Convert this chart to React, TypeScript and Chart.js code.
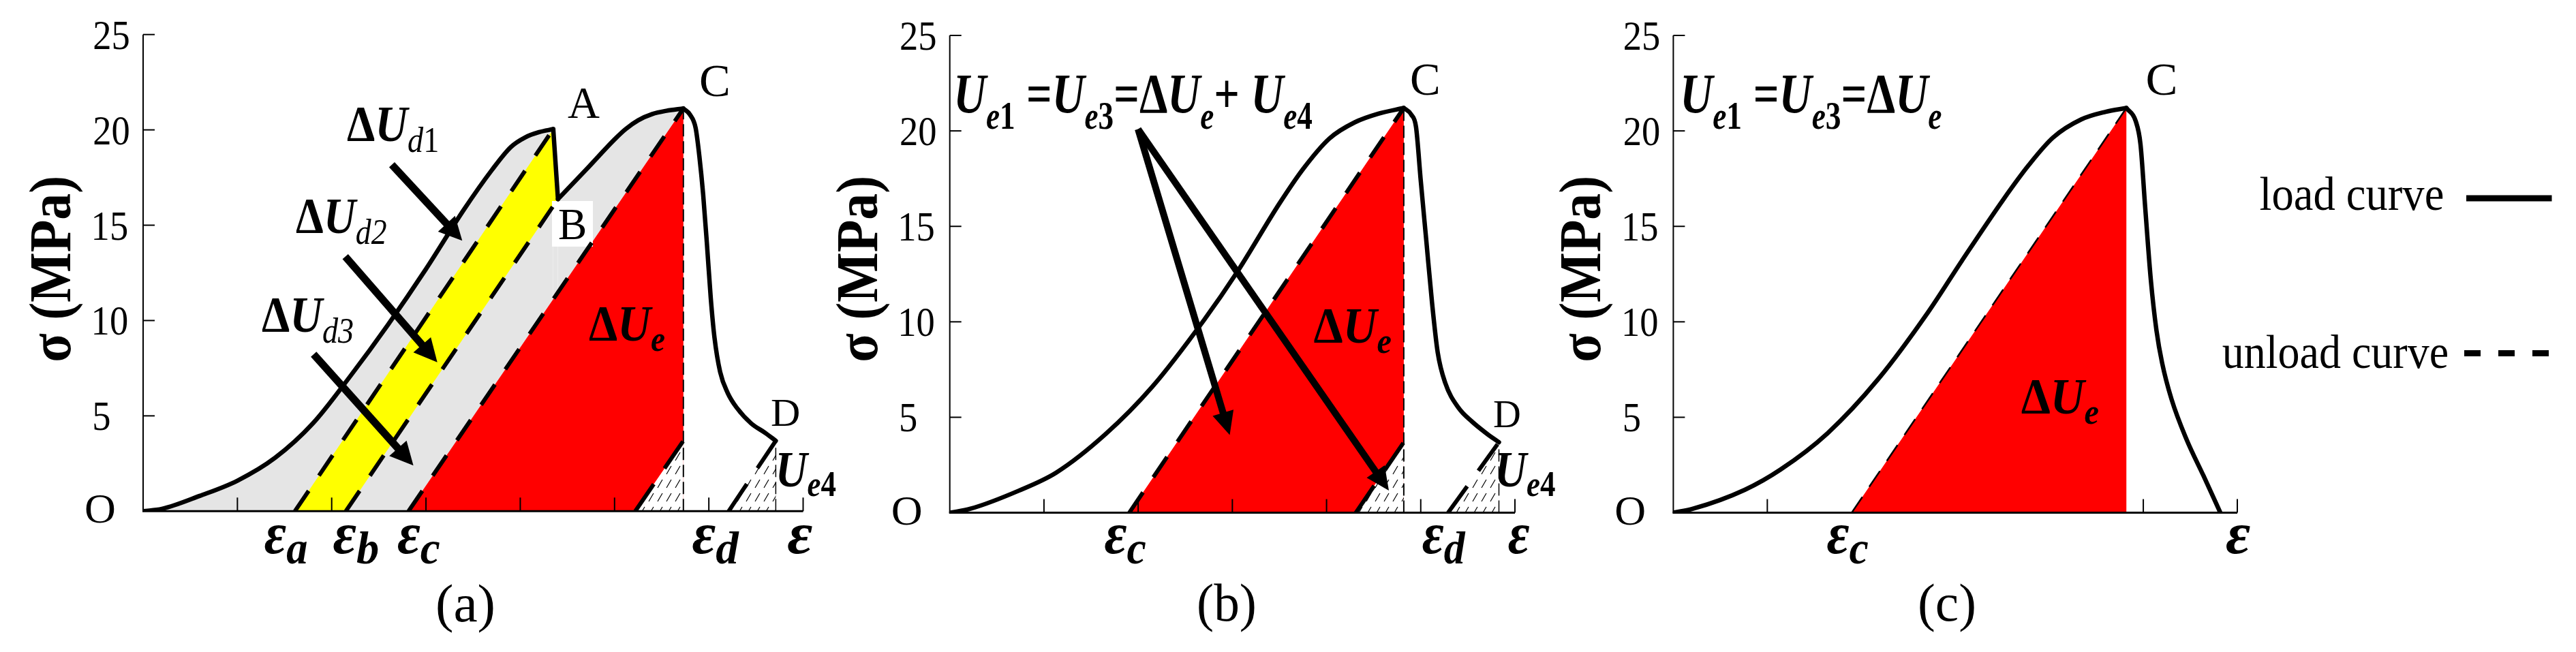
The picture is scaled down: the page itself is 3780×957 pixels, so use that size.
import React, { useEffect, useRef } from "react";
import { Chart, registerables } from "chart.js";

Chart.register(...registerables);

const W = 3780;
const H = 957;
const SERIF = "'Liberation Serif', 'Times New Roman', Times, 'DejaVu Serif', serif";

// ---------- axes: ticks and labels ----------
const yTickValues = [5, 10, 15, 20, 25];
const yTickLabels = ["5", "10", "15", "20", "25"];
const originLabel = "O";
const yAxisTitle = "σ (MPa)";
const aXTickValues = [1, 2, 3, 4, 5, 6, 7];
const bXTickValues = [1, 2, 3, 4, 5, 6];
const cXTickValues = [1, 2, 3, 4, 5, 6];
const panelNames = ["(a)", "(b)", "(c)"];
const legendLabels = ["load curve", "unload curve"];
const aStrainSubs = ["a", "b", "c", "d", ""];
const bStrainSubs = ["c", "d", ""];
const cStrainSubs = ["c", ""];

// ---------- panel (a) ----------
const aLoad1X = [0, 0.2, 0.6, 1.0, 1.4, 1.8, 2.2, 2.6, 3.0, 3.4, 3.7, 3.9, 4.05, 4.2, 4.35];
const aLoad1Y = [0, 0.12, 0.8, 1.6, 2.8, 4.6, 7.1, 9.8, 12.7, 15.8, 17.9, 19.1, 19.6, 19.88, 20.04];
const aDropX = [4.35, 4.4];
const aDropY = [20.04, 16.37];
const aLoad2X = [4.4, 4.7, 5.0, 5.12, 5.25, 5.4, 5.55, 5.73];
const aLoad2Y = [16.37, 17.92, 19.5, 20.05, 20.5, 20.83, 21.0, 21.12];
const aSoftX = [5.73, 5.8, 5.86, 5.9, 5.94, 5.98, 6.02, 6.06, 6.12, 6.2, 6.3, 6.45, 6.6, 6.71];
const aSoftY = [21.12, 20.8, 20.1, 18.6, 16.6, 14.0, 11.2, 9.1, 7.3, 6.2, 5.4, 4.6, 4.1, 3.69];
const aUnloadAX = [1.61, 4.35];
const aUnloadAY = [0, 20.04];
const aUnloadBX = [2.15, 4.4];
const aUnloadBY = [0, 16.37];
const aUnloadCX = [2.815, 5.73];
const aUnloadCY = [0, 21.12];
const aUnloadE4aX = [5.22, 5.73];
const aUnloadE4aY = [0, 3.69];
const aUnloadDX = [6.21, 6.71];
const aUnloadDY = [0, 3.69];
const aYellowX = [1.61, 4.35, 4.4, 2.15];
const aYellowY = [0, 20.04, 16.37, 0];
const aRedX = [2.815, 5.73, 5.73];
const aRedY = [0, 21.12, 0];
const aHatch1X = [5.22, 5.73, 5.73];
const aHatch1Y = [0, 3.69, 0];
const aHatch2X = [6.21, 6.71, 6.71];
const aHatch2Y = [0, 3.69, 0];
const aVertCX = [5.73, 5.73];
const aVertCY = [0, 21.12];
const aVertDX = [6.71, 6.71];
const aVertDY = [0, 3.69];

// ---------- panel (b) ----------
const bLoadX = [0, 0.22, 0.73, 1.13, 1.65, 2.15, 2.7, 3.05, 3.5, 3.75, 4.03, 4.3, 4.55, 4.82];
const bLoadY = [0, 0.21, 1.15, 2.1, 4.1, 6.6, 10.1, 12.6, 16.2, 18.0, 19.6, 20.45, 20.9, 21.2];
const bSoftX = [4.82, 4.9, 4.95, 5.0, 5.06, 5.12, 5.18, 5.26, 5.4, 5.55, 5.7, 5.83];
const bSoftY = [21.2, 20.85, 20.2, 17.4, 14.2, 11.0, 8.4, 6.8, 5.5, 4.75, 4.15, 3.69];
const bUnloadCX = [1.905, 4.82];
const bUnloadCY = [0, 21.2];
const bUnloadE4aX = [4.31, 4.82];
const bUnloadE4aY = [0, 3.69];
const bUnloadDX = [5.29, 5.83];
const bUnloadDY = [0, 3.69];
const bRedX = [1.905, 4.82, 4.82];
const bRedY = [0, 21.2, 0];
const bHatch1X = [4.31, 4.82, 4.82];
const bHatch1Y = [0, 3.69, 0];
const bHatch2X = [5.29, 5.83, 5.83];
const bHatch2Y = [0, 3.69, 0];
const bVertCX = [4.82, 4.82];
const bVertCY = [0, 21.2];
const bVertDX = [5.83, 5.83];
const bVertDY = [0, 3.69];

// ---------- panel (c) ----------
const cLoadX = [0, 0.21, 0.76, 1.14, 1.64, 2.18, 2.71, 3.07, 3.51, 3.78, 4.04, 4.34, 4.6, 4.82];
const cLoadY = [0, 0.21, 1.2, 2.26, 4.16, 7.0, 10.5, 13.2, 16.4, 18.2, 19.65, 20.6, 21.0, 21.2];
const cSoftX = [4.82, 4.92, 4.97, 5.02, 5.08, 5.14, 5.2, 5.3, 5.46, 5.64, 5.82];
const cSoftY = [21.2, 20.5, 19.3, 16.0, 12.2, 9.55, 7.85, 5.95, 3.84, 1.94, 0];
const cUnloadCX = [1.897, 4.82];
const cUnloadCY = [0, 21.2];
const cRedX = [1.897, 4.82, 4.82];
const cRedY = [0, 21.2, 0];

// ---------- helpers ----------
const F = {
  r: (s: number) => `${s}px ${SERIF}`,
  b: (s: number) => `bold ${s}px ${SERIF}`,
  i: (s: number) => `italic ${s}px ${SERIF}`,
  bi: (s: number) => `italic bold ${s}px ${SERIF}`,
};

type Seg = { t: string; f: string; dy?: number };

// Draws a run of text segments; the ink box (not the advance box) is fitted
// to a target width (w) or scaled by sx, and placed with its ink-left at x.
function rich(
  ctx: CanvasRenderingContext2D,
  segs: Seg[],
  x: number,
  y: number,
  o: { w?: number; sx?: number; align?: "left" | "center" } = {}
) {
  const adv: number[] = [];
  let total = 0;
  let inkL = 0;
  let lastR = 0;
  segs.forEach((s, i) => {
    ctx.font = s.f;
    const m = ctx.measureText(s.t);
    if (i === 0) inkL = -(m.actualBoundingBoxLeft || 0);
    if (i === segs.length - 1) lastR = total + (m.actualBoundingBoxRight || m.width);
    adv.push(m.width);
    total += m.width;
  });
  const inkW = Math.max(1, lastR - inkL);
  const sc = o.w ? o.w / inkW : o.sx ?? 0.88;
  const x0 = o.align === "center" ? x - (inkL + inkW / 2) * sc : x - inkL * sc;
  ctx.save();
  ctx.translate(x0, y);
  ctx.scale(sc, 1);
  ctx.textAlign = "left";
  ctx.textBaseline = "alphabetic";
  ctx.fillStyle = "#000";
  let cx = 0;
  segs.forEach((s, i) => {
    ctx.font = s.f;
    ctx.fillText(s.t, cx, s.dy ?? 0);
    cx += adv[i];
  });
  ctx.restore();
}

function arrow(
  ctx: CanvasRenderingContext2D,
  x1: number, y1: number, x2: number, y2: number,
  lw: number, hl: number, hw: number
) {
  const dx = x2 - x1, dy = y2 - y1;
  const L = Math.hypot(dx, dy);
  const ux = dx / L, uy = dy / L;
  const bx = x2 - ux * hl, by = y2 - uy * hl;
  ctx.save();
  ctx.strokeStyle = "#000";
  ctx.fillStyle = "#000";
  ctx.lineWidth = lw;
  ctx.lineCap = "butt";
  ctx.beginPath();
  ctx.moveTo(x1, y1);
  ctx.lineTo(bx + ux * 4, by + uy * 4);
  ctx.stroke();
  ctx.beginPath();
  ctx.moveTo(x2, y2);
  ctx.lineTo(bx - uy * hw, by + ux * hw);
  ctx.lineTo(bx + uy * hw, by - ux * hw);
  ctx.closePath();
  ctx.fill();
  ctx.restore();
}

const pts = (xs: number[], ys: number[]) => xs.map((x, i) => ({ x, y: ys[i] }));

const LOAD_W = 6.5;
const DASH_W = 6;

const curve = (xs: number[], ys: number[], order = 1) => ({
  data: pts(xs, ys),
  borderColor: "#000",
  borderWidth: LOAD_W,
  borderCapStyle: "round",
  borderJoinStyle: "round",
  cubicInterpolationMode: "monotone",
  fill: false,
  pointRadius: 0,
  order,
});
const straight = (xs: number[], ys: number[], order = 1) => ({
  data: pts(xs, ys),
  borderColor: "#000",
  borderWidth: LOAD_W,
  borderCapStyle: "round",
  fill: false,
  pointRadius: 0,
  tension: 0,
  order,
});
const dashed = (xs: number[], ys: number[], dash: number[], width: number, order = 5) => ({
  data: pts(xs, ys),
  borderColor: "#000",
  borderWidth: width,
  borderDash: dash,
  borderCapStyle: "butt",
  fill: false,
  pointRadius: 0,
  tension: 0,
  order,
});
const poly = (xs: number[], ys: number[], color: any, order: number) => ({
  data: pts(xs, ys),
  borderWidth: 0,
  backgroundColor: color,
  fill: "shape",
  pointRadius: 0,
  tension: 0,
  order,
});
const under = (xs: number[], ys: number[], color: string, smooth: boolean, order: number) => ({
  data: pts(xs, ys),
  borderWidth: 0,
  backgroundColor: color,
  fill: "origin",
  pointRadius: 0,
  tension: 0,
  cubicInterpolationMode: smooth ? "monotone" : "default",
  order,
});

const GREY = "#e5e5e5";
const YELLOW = "#ffff00";
const RED = "#ff0000";
const MAIN_DASH = [36, 27];
const SHORT_DASH = [48, 28];
const THIN_DASH = [18, 7];

const dUd = (n: string): Seg[] => [
  { t: "Δ", f: F.b(74) },
  { t: "U", f: F.bi(74) },
  { t: "d", f: F.i(52), dy: 16 },
  { t: n, f: n === "1" ? F.r(52) : F.i(52), dy: 16 },
];
const dUe: Seg[] = [
  { t: "Δ", f: F.b(74) },
  { t: "U", f: F.bi(74) },
  { t: "e", f: F.bi(52), dy: 15 },
];
const ue4: Seg[] = [
  { t: "U", f: F.bi(75) },
  { t: "e", f: F.bi(52), dy: 14 },
  { t: "4", f: F.b(52), dy: 14 },
];
const U = (n: string): Seg[] => {
  const s: Seg[] = [
    { t: "U", f: F.bi(82) },
    { t: "e", f: F.bi(56), dy: 24 },
  ];
  if (n) s.push({ t: n, f: F.b(56), dy: 24 });
  return s;
};

function strain(ctx: CanvasRenderingContext2D, sub: string, x: number, w: number) {
  const segs: Seg[] = [{ t: "ε", f: F.bi(86) }];
  if (sub) segs.push({ t: sub, f: F.bi(68), dy: 15 });
  rich(ctx, segs, x, 812, { w });
}

type Panel = {
  left: number;
  right: number;
  top: number;
  bottom: number;
  xMax: number;
  xTicks: number[];
  ticksUnder?: boolean;
  datasets: any[];
  beforeLines?: (ctx: CanvasRenderingContext2D) => void;
  annotate: (ctx: CanvasRenderingContext2D) => void;
};

function drawTicks(chart: any, p: Panel) {
  const ctx = chart.ctx as CanvasRenderingContext2D;
  const xs = chart.scales.x, ys = chart.scales.y;
  const y0 = ys.getPixelForValue(0);
  ctx.save();
  ctx.strokeStyle = "#000";
  ctx.lineWidth = 2;
  for (const v of p.xTicks) {
    const x = xs.getPixelForValue(v);
    ctx.beginPath();
    ctx.moveTo(x, y0);
    ctx.lineTo(x, y0 - 20);
    ctx.stroke();
  }
  ctx.restore();
}

function drawAxes(chart: any, p: Panel) {
  const ctx = chart.ctx as CanvasRenderingContext2D;
  const xs = chart.scales.x, ys = chart.scales.y;
  const x0 = xs.getPixelForValue(0);
  const x1 = xs.getPixelForValue(p.xMax);
  const y0 = ys.getPixelForValue(0);
  const yT = ys.getPixelForValue(25);
  ctx.save();
  ctx.strokeStyle = "#000";
  ctx.lineWidth = 2;
  ctx.beginPath();
  ctx.moveTo(x0, y0);
  ctx.lineTo(x0, yT);
  ctx.stroke();
  for (const v of yTickValues) {
    const y = ys.getPixelForValue(v);
    ctx.beginPath();
    ctx.moveTo(x0, y);
    ctx.lineTo(x0 + 17, y);
    ctx.stroke();
  }
  ctx.lineWidth = 3;
  ctx.beginPath();
  ctx.moveTo(x0 - 1, y0);
  ctx.lineTo(x1, y0);
  ctx.stroke();
  ctx.restore();
}

function drawYLabels(chart: any) {
  const ctx = chart.ctx as CanvasRenderingContext2D;
  const xs = chart.scales.x, ys = chart.scales.y;
  const x0 = xs.getPixelForValue(0);
  yTickValues.forEach((v, i) => {
    rich(ctx, [{ t: yTickLabels[i], f: F.r(62) }], x0 - 72, ys.getPixelForValue(v) + 21, { sx: 0.88 });
  });
  rich(ctx, [{ t: originLabel, f: F.r(62) }], x0 - 84, ys.getPixelForValue(0) + 17, { w: 42 });
  ctx.save();
  ctx.translate(x0 - 107, 395);
  ctx.rotate(-Math.PI / 2);
  rich(ctx, [{ t: yAxisTitle, f: F.b(86) }], 0, 0, { w: 268, align: "center" });
  ctx.restore();
}

function makePanels(hatch: any): Panel[] {
  const A: Panel = {
    left: 210, right: 1178.5, top: 50.7, bottom: 750.3, xMax: 7, xTicks: aXTickValues,
    datasets: [
      curve(aLoad1X, aLoad1Y, 1),
      straight(aDropX, aDropY, 1),
      curve(aLoad2X, aLoad2Y, 1),
      curve(aSoftX, aSoftY, 1),
      dashed(aUnloadAX, aUnloadAY, MAIN_DASH, DASH_W, 4),
      dashed(aUnloadBX, aUnloadBY, MAIN_DASH, DASH_W, 4),
      dashed(aUnloadCX, aUnloadCY, MAIN_DASH, DASH_W, 4),
      dashed(aUnloadE4aX, aUnloadE4aY, SHORT_DASH, DASH_W, 4),
      dashed(aUnloadDX, aUnloadDY, SHORT_DASH, DASH_W, 4),
      dashed(aVertCX, aVertCY, THIN_DASH, 2, 8),
      dashed(aVertDX, aVertDY, THIN_DASH, 1.5, 8),
      poly(aHatch1X, aHatch1Y, hatch, 15),
      poly(aHatch2X, aHatch2Y, hatch, 15),
      poly(aRedX, aRedY, RED, 20),
      poly(aYellowX, aYellowY, YELLOW, 25),
      under(aLoad1X, aLoad1Y, GREY, true, 30),
      under(aDropX, aDropY, GREY, false, 30),
      under(aLoad2X, aLoad2Y, GREY, true, 30),
    ],
    beforeLines: (ctx) => {
      ctx.save();
      ctx.fillStyle = "#fff";
      ctx.fillRect(810, 295, 60, 67);
      ctx.restore();
    },
    annotate: (ctx) => {
      rich(ctx, [{ t: "A", f: F.r(65) }], 833, 173, { w: 47 });
      rich(ctx, [{ t: "B", f: F.r(65) }], 820, 351, { w: 39 });
      rich(ctx, [{ t: "C", f: F.r(67) }], 1028, 141, { w: 40 });
      rich(ctx, [{ t: "D", f: F.r(57) }], 1132, 625, { w: 40 });
      rich(ctx, ue4, 1143, 714, { w: 84 });
      rich(ctx, dUd("1"), 510, 206.7, { w: 131.7 });
      rich(ctx, dUd("2"), 435, 341.7, { w: 131.7 });
      rich(ctx, dUd("3"), 385, 486.7, { w: 133.3 });
      rich(ctx, dUe, 865, 500, { w: 110 });
      arrow(ctx, 575, 241.7, 678.3, 353.3, 11, 34, 17);
      arrow(ctx, 506.7, 376.7, 641.7, 531.7, 11, 34, 17);
      arrow(ctx, 460.2, 520, 606.6, 683.3, 11, 34, 17);
      const pos = [[388.7, 61.8], [489.5, 65], [583.9, 61.8], [1016.5, 68.3], [1156.4, 35.8]];
      aStrainSubs.forEach((s, i) => strain(ctx, s, pos[i][0], pos[i][1]));
      rich(ctx, [{ t: panelNames[0], f: F.r(78) }], 683, 912, { w: 82, align: "center" });
    },
  };

  const B: Panel = {
    left: 1393.7, right: 2223, top: 52, bottom: 752.6, xMax: 6, xTicks: bXTickValues,
    datasets: [
      curve(bLoadX, bLoadY, 1),
      curve(bSoftX, bSoftY, 1),
      dashed(bUnloadCX, bUnloadCY, MAIN_DASH, DASH_W, 4),
      dashed(bUnloadE4aX, bUnloadE4aY, SHORT_DASH, DASH_W, 4),
      dashed(bUnloadDX, bUnloadDY, SHORT_DASH, DASH_W, 4),
      dashed(bVertCX, bVertCY, THIN_DASH, 2, 8),
      dashed(bVertDX, bVertDY, THIN_DASH, 1.5, 8),
      poly(bHatch1X, bHatch1Y, hatch, 15),
      poly(bHatch2X, bHatch2Y, hatch, 15),
      poly(bRedX, bRedY, RED, 20),
    ],
    annotate: (ctx) => {
      rich(ctx, [{ t: "C", f: F.r(67) }], 2071, 139, { w: 39 });
      rich(ctx, [{ t: "D", f: F.r(58) }], 2192, 627, { w: 38 });
      rich(ctx, ue4, 2198.5, 714, { w: 84 });
      rich(ctx, dUe, 1928.5, 503, { w: 112.5 });
      const eq: Seg[] = [
        ...U("1"),
        { t: " =", f: F.b(82) },
        ...U("3"),
        { t: "=", f: F.b(82) },
        { t: "Δ", f: F.b(82) },
        ...U(""),
        { t: "+ ", f: F.b(82) },
        ...U("4"),
      ];
      rich(ctx, eq, 1404, 165, { w: 521 });
      arrow(ctx, 1670, 189.5, 1804.5, 638.5, 10, 34, 16);
      arrow(ctx, 1670, 189.5, 2038, 720, 10, 34, 16);
      const pos = [[1621.4, 60.3], [2087.6, 63], [2213.7, 30.7]];
      bStrainSubs.forEach((s, i) => strain(ctx, s, pos[i][0], pos[i][1]));
      rich(ctx, [{ t: panelNames[1], f: F.r(78) }], 1800, 911, { w: 82, align: "center" });
    },
  };

  const C: Panel = {
    left: 2455.4, right: 3283, top: 52, bottom: 752.6, xMax: 6, xTicks: cXTickValues,
    ticksUnder: true,
    datasets: [
      curve(cLoadX, cLoadY, 1),
      curve(cSoftX, cSoftY, 1),
      dashed(cUnloadCX, cUnloadCY, [28, 18], 2.5, 4),
      poly(cRedX, cRedY, RED, 20),
    ],
    annotate: (ctx) => {
      rich(ctx, [{ t: "C", f: F.r(67) }], 3150.5, 139, { w: 41 });
      const eq: Seg[] = [
        ...U("1"),
        { t: " =", f: F.b(82) },
        ...U("3"),
        { t: "=", f: F.b(82) },
        { t: "Δ", f: F.b(82) },
        ...U(""),
      ];
      rich(ctx, eq, 2470, 165, { w: 378.7 });
      rich(ctx, dUe, 2966.6, 606.6, { w: 112.5 });
      const pos = [[2681.4, 60.3], [3267, 35]];
      cStrainSubs.forEach((s, i) => strain(ctx, s, pos[i][0], pos[i][1]));
      rich(ctx, [{ t: panelNames[2], f: F.r(78) }], 2857, 911, { w: 80, align: "center" });
      // legend
      rich(ctx, [{ t: legendLabels[0], f: F.r(70) }], 3316.4, 308, { w: 268 });
      rich(ctx, [{ t: legendLabels[1], f: F.r(70) }], 3260.7, 540, { w: 330.5 });
      ctx.save();
      ctx.strokeStyle = "#000";
      ctx.lineWidth = 9;
      ctx.lineCap = "butt";
      ctx.beginPath();
      ctx.moveTo(3619, 291);
      ctx.lineTo(3744.5, 291);
      ctx.stroke();
      ctx.setLineDash([24, 26]);
      ctx.beginPath();
      ctx.moveTo(3616, 518.5);
      ctx.lineTo(3744.5, 518.5);
      ctx.stroke();
      ctx.restore();
    },
  };
  return [A, B, C];
}

function makeHatch(ctx: CanvasRenderingContext2D) {
  const c = document.createElement("canvas");
  c.width = 13;
  c.height = 20;
  const g = c.getContext("2d")!;
  g.fillStyle = "#fff";
  g.fillRect(0, 0, 13, 20);
  g.strokeStyle = "#000";
  g.lineWidth = 1.2;
  g.beginPath();
  g.moveTo(3, 16);
  g.lineTo(10, 4);
  g.stroke();
  return ctx.createPattern(c, "repeat");
}

export default function App() {
  const r0 = useRef<HTMLCanvasElement>(null);
  const r1 = useRef<HTMLCanvasElement>(null);
  const r2 = useRef<HTMLCanvasElement>(null);

  useEffect(() => {
    const canvases = [r0.current!, r1.current!, r2.current!];
    const hatch = makeHatch(canvases[0].getContext("2d")!);
    const panels = makePanels(hatch);
    const charts = panels.map((p, i) => {
      const plugin = {
        id: "panelDecor" + i,
        beforeDraw(chart: any) {
          if (p.ticksUnder) drawTicks(chart, p);
        },
        beforeDatasetsDraw(chart: any) {
          if (p.beforeLines) p.beforeLines(chart.ctx);
        },
        afterDatasetsDraw(chart: any) {
          if (!p.ticksUnder) drawTicks(chart, p);
          drawAxes(chart, p);
        },
        afterDraw(chart: any) {
          drawYLabels(chart);
          p.annotate(chart.ctx);
        },
      };
      return new Chart(canvases[i], {
        type: "line",
        data: { datasets: p.datasets },
        options: {
          responsive: false,
          animation: false,
          devicePixelRatio: 1,
          events: [],
          layout: {
            padding: { left: p.left, right: W - p.right, top: p.top, bottom: H - p.bottom },
          },
          scales: {
            x: { type: "linear", min: 0, max: p.xMax, display: false },
            y: { type: "linear", min: 0, max: 25, display: false },
          },
          plugins: {
            legend: { display: false },
            tooltip: { enabled: false },
            filler: { drawTime: "beforeDatasetsDraw", propagate: false },
          },
          elements: { point: { radius: 0 } },
        } as any,
        plugins: [plugin],
      });
    });
    let alive = true;
    const fonts = (document as any).fonts;
    if (fonts && fonts.load) {
      Promise.all([
        fonts.load(`62px ${SERIF}`),
        fonts.load(`bold 62px ${SERIF}`),
        fonts.load(`italic 62px ${SERIF}`),
        fonts.load(`italic bold 62px ${SERIF}`),
      ])
        .then(() => {
          if (alive) charts.forEach((c) => c.update());
        })
        .catch(() => {});
    }
    return () => {
      alive = false;
      charts.forEach((c) => c.destroy());
    };
  }, []);

  const st: React.CSSProperties = { position: "absolute", left: 0, top: 0 };
  return (
    <div style={{ position: "absolute", left: 0, top: 0, width: W, height: H, overflow: "hidden", background: "#fff" }}>
      <canvas ref={r0} width={W} height={H} style={st} />
      <canvas ref={r1} width={W} height={H} style={st} />
      <canvas ref={r2} width={W} height={H} style={st} />
    </div>
  );
}
